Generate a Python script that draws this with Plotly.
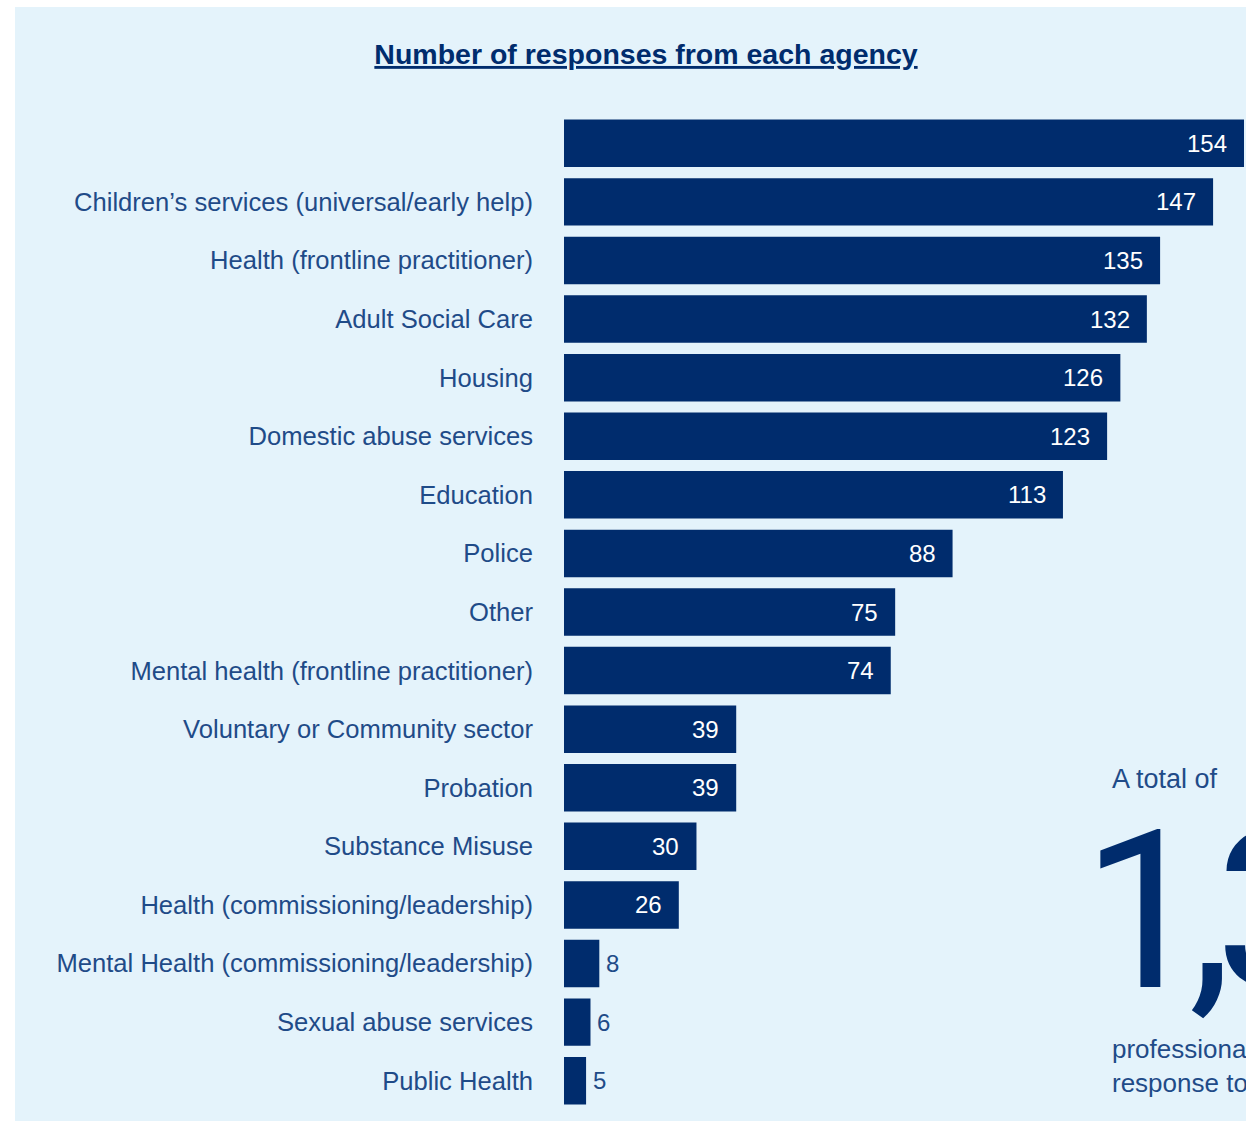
import plotly.graph_objects as go

categories = [
    "",
    "Children’s services (universal/early help)",
    "Health (frontline practitioner)",
    "Adult Social Care",
    "Housing",
    "Domestic abuse services",
    "Education",
    "Police",
    "Other",
    "Mental health (frontline practitioner)",
    "Voluntary or Community sector",
    "Probation",
    "Substance Misuse",
    "Health (commissioning/leadership)",
    "Mental Health (commissioning/leadership)",
    "Sexual abuse services",
    "Public Health",
]
values = [154, 147, 135, 132, 126, 123, 113, 88, 75, 74, 39, 39, 30, 26, 8, 6, 5]

total = sum(values)

NAVY = "#002c6d"
LABEL = "#1f4b88"
BG = "#e4f3fb"
FONT = "Liberation Sans"

W, H = 1246, 1121
ML, MR, MT, MB = 564, 0, 114, 11
pw = W - ML - MR
ph = H - MT - MB

def px_to_paper_x(px):
    return (px - ML) / pw

def px_to_paper_y(py):
    return (H - MB - py) / ph

ypos = list(range(len(categories)))

fig = go.Figure()
fig.add_trace(go.Bar(
    x=values, y=ypos, orientation="h",
    marker=dict(color=NAVY, line=dict(width=0)),
    hoverinfo="skip",
))

annotations = []
for yi, v in zip(ypos, values):
    if v >= 20:
        annotations.append(dict(x=v, y=yi, xref="x", yref="y", text=str(v),
                                showarrow=False, xanchor="right", xshift=-15,
                                font=dict(family=FONT, size=24, color="white")))
    else:
        annotations.append(dict(x=v, y=yi, xref="x", yref="y", text=str(v),
                                showarrow=False, xanchor="left", xshift=5,
                                font=dict(family=FONT, size=24, color=LABEL)))

annotations.append(dict(x=px_to_paper_x(1110), y=px_to_paper_y(779), xref="paper", yref="paper",
                        text="A total of", showarrow=False, xanchor="left", yanchor="middle",
                        font=dict(family=FONT, size=27, color=LABEL)))
annotations.append(dict(x=px_to_paper_x(1080), y=px_to_paper_y(912), xref="paper", yref="paper",
                        text=f'<span style="letter-spacing:-17px">{total:,}</span>',
                        showarrow=False, xanchor="left", yanchor="middle",
                        font=dict(family="Roboto", size=220, color=NAVY)))
annotations.append(dict(x=px_to_paper_x(1110), y=px_to_paper_y(1066), xref="paper", yref="paper",
                        text="professionals gave a<br>response to the survey", showarrow=False,
                        xanchor="left", yanchor="middle", align="left",
                        font=dict(family=FONT, size=26, color=LABEL)))

fig.update_layout(
    width=W, height=H, autosize=False,
    margin=dict(l=ML, r=MR, t=MT, b=MB, pad=0),
    paper_bgcolor="white", plot_bgcolor="rgba(0,0,0,0)",
    bargap=0.19,
    showlegend=False,
    title=dict(text="<b>Number of responses from each agency</b>",
               x=646 / W, xanchor="center", y=1 - 54 / H, yanchor="middle",
               font=dict(family=FONT, size=28.5, color=NAVY, lineposition="under")),
    xaxis=dict(range=[0, pw / (680 / 154)], visible=False, fixedrange=True),
    yaxis=dict(tickvals=ypos, ticktext=categories, autorange=False,
               range=[len(categories) - 0.5, -0.5],
               showgrid=False, zeroline=False, showline=False, ticks="",
               ticklabelstandoff=30,
               tickfont=dict(family=FONT, size=25.6, color=LABEL)),
    shapes=[dict(type="rect", xref="paper", yref="paper", layer="below",
                 x0=px_to_paper_x(15), x1=px_to_paper_x(1300),
                 y0=px_to_paper_y(1121), y1=px_to_paper_y(7),
                 fillcolor=BG, line=dict(width=0))],
    annotations=annotations,
)

fig.write_html("out.html")
